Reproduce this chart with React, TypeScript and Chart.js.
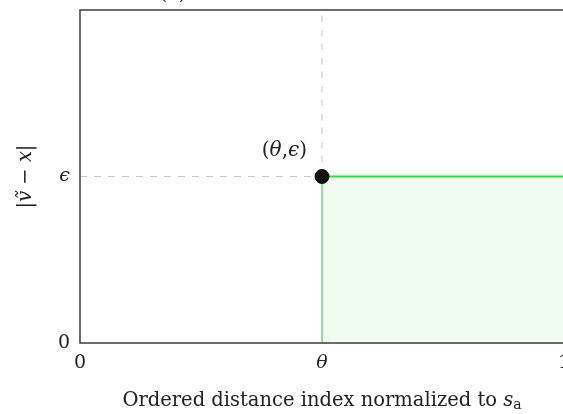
import React, { useEffect, useRef } from 'react';
import { Chart, registerables } from 'chart.js';

Chart.register(...registerables);

// Axis ticks and their labels
const xTickValues = [0, 0.5, 1];
const xTickLabels = ['0', 'θ', '1'];
const yTickValues = [0, 0.5];
const yTickLabels = ['0', 'ϵ'];

// Threshold point (θ, ϵ) and the accepted region to its right
const theta = 0.5;
const epsilon = 0.5;
const regionX = [theta, theta, 1];
const regionY = [0, epsilon, epsilon];

const SERIF = '"DejaVu Serif", "Liberation Serif", serif';
const TICK_SIZE = 19;
const TITLE_SIZE = 19.5;
const TEXT_COLOR = '#222222';
const ITALIC_LABELS = ['θ', 'ϵ'];

const frame = {
  id: 'frameAndTitles',
  afterDatasetsDraw(chart: Chart) {
    const { ctx, chartArea } = chart;
    const { left, right, top, bottom } = chartArea;
    ctx.save();

    // box around the plot
    ctx.strokeStyle = '#3c3c3c';
    ctx.lineWidth = 1.5;
    ctx.strokeRect(left, top, right - left, bottom - top);

    ctx.fillStyle = TEXT_COLOR;
    ctx.textBaseline = 'alphabetic';
    const fontOf = (it: boolean, size: number) =>
      `${it ? 'italic ' : ''}${size}px ${SERIF}`;

    // annotation next to the threshold point
    const px = chart.scales.x.getPixelForValue(theta);
    const py = chart.scales.y.getPixelForValue(epsilon);
    const parts: [string, boolean][] = [
      ['(', false], ['θ', true], [',', false], ['ϵ', true], [')', false],
    ];
    const annSize = 20;
    let w = 0;
    parts.forEach(([t, it]) => { ctx.font = fontOf(it, annSize); w += ctx.measureText(t).width; });
    let cx = px - 15 - w;
    parts.forEach(([t, it]) => {
      ctx.font = fontOf(it, annSize);
      ctx.fillText(t, cx, py - 21);
      cx += ctx.measureText(t).width;
    });

    // x-axis title with italic s and a lowered subscript
    const main = 'Ordered distance index normalized to ';
    ctx.font = fontOf(false, TITLE_SIZE);
    const wMain = ctx.measureText(main).width;
    ctx.font = fontOf(true, TITLE_SIZE);
    const wS = ctx.measureText('s').width;
    ctx.font = fontOf(false, 14);
    const wA = ctx.measureText('a').width;
    const total = wMain + wS + wA;
    const baseY = bottom + 63;
    let tx = (left + right) / 2 - total / 2;
    ctx.font = fontOf(false, TITLE_SIZE);
    ctx.fillText(main, tx, baseY);
    tx += wMain;
    ctx.font = fontOf(true, TITLE_SIZE);
    ctx.fillText('s', tx, baseY);
    tx += wS;
    ctx.font = fontOf(false, 14);
    ctx.fillText('a', tx, baseY + 3);

    // y-axis title, rotated
    ctx.save();
    ctx.translate(left - 54, (top + bottom) / 2);
    ctx.rotate(-Math.PI / 2);
    ctx.font = fontOf(true, TITLE_SIZE);
    ctx.textAlign = 'center';
    ctx.textBaseline = 'middle';
    ctx.fillText('|ṽ − x|', 0, 0);
    ctx.restore();

    // sub-figure caption above the plot
    ctx.font = fontOf(false, TITLE_SIZE);
    ctx.textAlign = 'center';
    ctx.fillText('(a)', left + 93, top - 11);

    ctx.restore();
  },
};

export default function App() {
  const canvasRef = useRef<HTMLCanvasElement | null>(null);

  useEffect(() => {
    const canvas = canvasRef.current;
    if (!canvas) return;
    const pts = (xs: number[], ys: number[]) => xs.map((x, i) => ({ x, y: ys[i] }));
    const tickFont = (vals: number[], labs: string[]) => (c: any) => {
      const lab = labs[vals.indexOf(c.tick?.value)] ?? '';
      return { family: SERIF, size: TICK_SIZE, style: ITALIC_LABELS.includes(lab) ? 'italic' : 'normal' };
    };

    const chart = new Chart(canvas, {
      type: 'line',
      data: {
        datasets: [
          {
            data: pts([theta, theta], [epsilon, 1]),
            borderColor: '#c8c8c8',
            borderWidth: 1,
            borderDash: [7, 7],
            pointRadius: 0,
            fill: false,
            order: 3,
          },
          {
            data: pts([0, theta], [epsilon, epsilon]),
            borderColor: '#c8c8c8',
            borderWidth: 1,
            borderDash: [7, 7],
            pointRadius: 0,
            fill: false,
            order: 3,
          },
          {
            data: pts(regionX, regionY),
            borderColor: '#2fdc2f',
            backgroundColor: '#f1fcf1',
            borderWidth: 2,
            segment: {
              borderWidth: (c: any) => (c.p0DataIndex === 0 ? 1 : 2),
              borderColor: (c: any) => (c.p0DataIndex === 0 ? '#3cc43c' : '#2fdc2f'),
            },
            pointRadius: 0,
            fill: 'origin',
            order: 2,
          },
          {
            type: 'scatter',
            data: pts([theta], [epsilon]),
            backgroundColor: '#111111',
            borderColor: '#111111',
            pointRadius: 7,
            order: 1,
          } as any,
        ],
      },
      options: {
        animation: false,
        responsive: false,
        maintainAspectRatio: false,
        layout: { padding: { left: 0, right: 36, top: 36, bottom: 0 } },
        plugins: { legend: { display: false }, tooltip: { enabled: false }, title: { display: false } },
        scales: {
          x: {
            type: 'linear',
            min: 0,
            max: 1,
            grid: { display: false, drawTicks: false },
            border: { display: false },
            afterBuildTicks: (s: any) => { s.ticks = xTickValues.map((v) => ({ value: v })); },
            afterFit: (s: any) => { s.height = 71; },
            ticks: {
              padding: 9,
              color: TEXT_COLOR,
              maxRotation: 0,
              autoSkip: false,
              font: tickFont(xTickValues, xTickLabels),
              callback: (v: any) => xTickLabels[xTickValues.indexOf(Number(v))] ?? '',
            },
          },
          y: {
            type: 'linear',
            min: 0,
            max: 1,
            grid: { display: false, drawTicks: false },
            border: { display: false },
            afterBuildTicks: (s: any) => { s.ticks = yTickValues.map((v) => ({ value: v })); },
            afterFit: (s: any) => { s.width = 80; },
            ticks: {
              padding: 10,
              color: TEXT_COLOR,
              autoSkip: false,
              font: tickFont(yTickValues, yTickLabels),
              callback: (v: any) => yTickLabels[yTickValues.indexOf(Number(v))] ?? '',
            },
          },
        },
      },
      plugins: [frame],
    });
    return () => chart.destroy();
  }, []);

  return (
    <div style={{ position: 'fixed', left: 0, top: 0, width: 563, height: 414, overflow: 'hidden', background: '#fff' }}>
      <canvas
        ref={canvasRef}
        width={600}
        height={440}
        style={{ position: 'absolute', left: 0, top: -26, width: 600, height: 440 }}
      />
    </div>
  );
}
